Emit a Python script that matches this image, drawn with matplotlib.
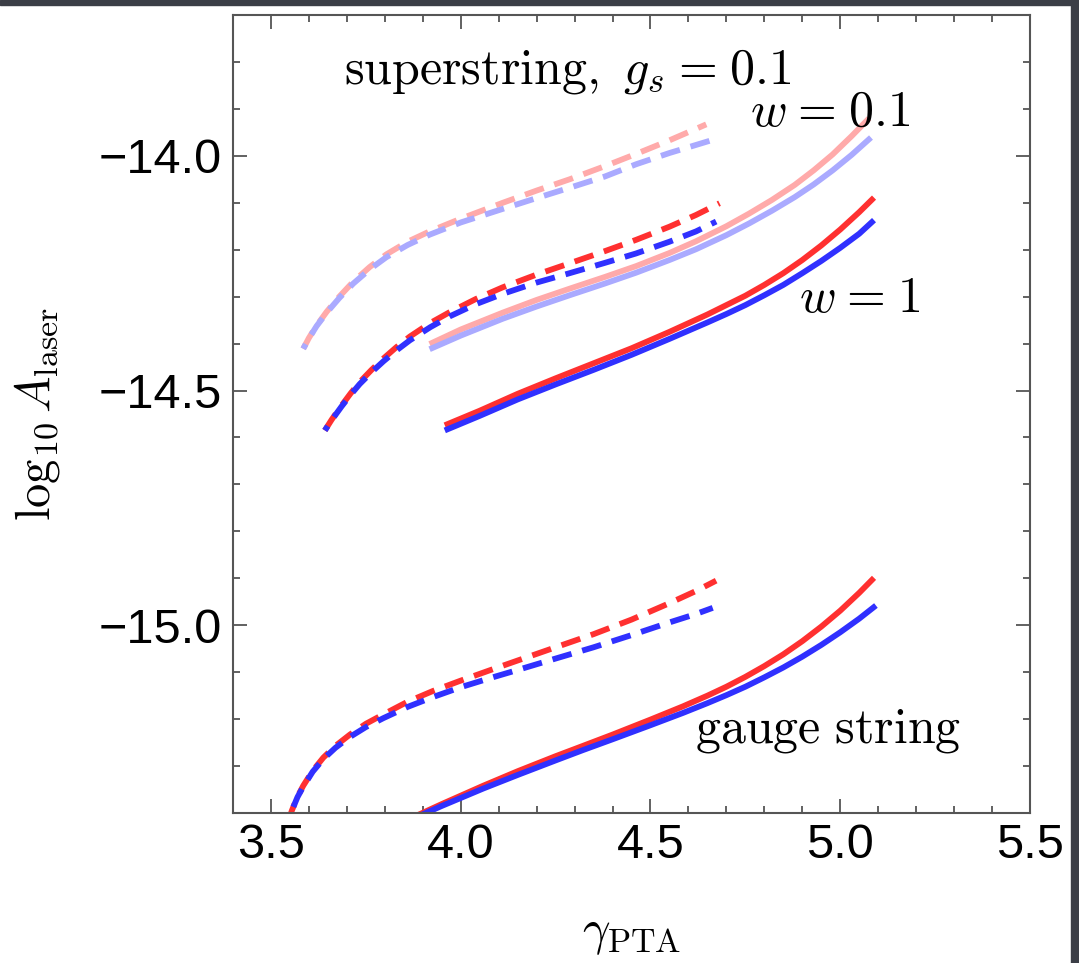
import matplotlib
matplotlib.use("Agg")
import matplotlib.pyplot as plt
from matplotlib.ticker import MultipleLocator, FuncFormatter
from matplotlib.patches import Rectangle

plt.rcParams["font.family"] = ["Liberation Sans", "DejaVu Sans"]
plt.rcParams["mathtext.fontset"] = "cm"

# ---------------------------------
# DATA
# ---------------------------------
# superstring, w = 0.1, dashed (light colours)
sl_dash_red_x = [3.585, 3.60, 3.62, 3.647, 3.68, 3.717, 3.76, 3.804, 3.86, 3.918,
                 4.00, 4.111, 4.20, 4.287, 4.38, 4.462, 4.55, 4.647]
sl_dash_red_y = [-14.411, -14.388, -14.362, -14.332, -14.300, -14.268, -14.237, -14.210, -14.183, -14.161,
                 -14.134, -14.100, -14.074, -14.050, -14.022, -13.996, -13.967, -13.933]
sl_dash_blue_x = [3.585, 3.60, 3.62, 3.647, 3.68, 3.717, 3.76, 3.804, 3.86, 3.918,
                  4.00, 4.111, 4.20, 4.287, 4.38, 4.462, 4.55, 4.660]
sl_dash_blue_y = [-14.411, -14.389, -14.363, -14.334, -14.303, -14.272, -14.242, -14.216, -14.190, -14.168,
                  -14.142, -14.113, -14.090, -14.068, -14.044, -14.018, -13.994, -13.967]

# superstring, w = 0.1, solid (light colours)
sl_solid_red_x = [3.918, 4.00, 4.111, 4.20, 4.287, 4.38, 4.462, 4.55, 4.62,
                  4.70, 4.76, 4.82, 4.88, 4.93, 4.98, 5.03, 5.076]
sl_solid_red_y = [-14.401, -14.370, -14.334, -14.307, -14.283, -14.258, -14.235, -14.207, -14.182,
                  -14.150, -14.123, -14.094, -14.062, -14.031, -13.997, -13.958, -13.920]
sl_solid_blue_x = [3.918, 4.00, 4.111, 4.20, 4.287, 4.38, 4.462, 4.55, 4.62,
                   4.70, 4.76, 4.82, 4.88, 4.93, 4.98, 5.03, 5.081]
sl_solid_blue_y = [-14.412, -14.383, -14.347, -14.321, -14.297, -14.272, -14.249, -14.222, -14.199,
                   -14.169, -14.144, -14.117, -14.088, -14.061, -14.031, -13.998, -13.961]

# superstring, w = 1, dashed
s_dash_red_x = [3.642, 3.66, 3.686, 3.71, 3.734, 3.765, 3.796, 3.83, 3.866, 3.92,
                3.971, 4.04, 4.111, 4.20, 4.287, 4.38, 4.462, 4.55, 4.62, 4.682]
s_dash_red_y = [-14.585, -14.562, -14.532, -14.506, -14.482, -14.456, -14.432, -14.408, -14.385, -14.356,
                -14.333, -14.305, -14.280, -14.253, -14.229, -14.203, -14.179, -14.151, -14.126, -14.101]
s_dash_blue_x = [3.642, 3.66, 3.686, 3.71, 3.734, 3.765, 3.796, 3.83, 3.866, 3.92,
                 3.971, 4.04, 4.111, 4.20, 4.287, 4.38, 4.462, 4.55, 4.62, 4.673]
s_dash_blue_y = [-14.585, -14.563, -14.534, -14.509, -14.486, -14.461, -14.438, -14.415, -14.393, -14.365,
                 -14.342, -14.316, -14.294, -14.270, -14.250, -14.228, -14.208, -14.183, -14.161, -14.140]

# superstring, w = 1, solid
s_solid_red_x = [3.958, 4.05, 4.15, 4.25, 4.35, 4.45, 4.55, 4.65, 4.70,
                 4.75, 4.80, 4.85, 4.90, 4.95, 5.00, 5.05, 5.089]
s_solid_red_y = [-14.574, -14.543, -14.507, -14.474, -14.442, -14.410, -14.375, -14.338, -14.318,
                 -14.298, -14.275, -14.250, -14.222, -14.191, -14.157, -14.120, -14.089]
s_solid_blue_x = [3.958, 4.05, 4.15, 4.25, 4.35, 4.45, 4.55, 4.65, 4.70,
                  4.75, 4.80, 4.85, 4.90, 4.95, 5.00, 5.05, 5.089]
s_solid_blue_y = [-14.585, -14.554, -14.519, -14.487, -14.456, -14.424, -14.390, -14.355, -14.337,
                  -14.318, -14.297, -14.275, -14.250, -14.224, -14.196, -14.166, -14.137]

# gauge string, dashed
g_dash_red_x = [3.545, 3.555, 3.57, 3.585, 3.61, 3.638, 3.67, 3.708, 3.75, 3.796, 3.86,
                3.927, 4.00, 4.08, 4.147, 4.25, 4.35, 4.45, 4.55, 4.62, 4.673]
g_dash_red_y = [-15.420, -15.395, -15.365, -15.342, -15.310, -15.282, -15.257, -15.233, -15.210, -15.190, -15.163,
                -15.140, -15.118, -15.095, -15.076, -15.047, -15.019, -14.988, -14.953, -14.927, -14.905]
g_dash_blue_x = [3.545, 3.555, 3.57, 3.585, 3.61, 3.638, 3.67, 3.708, 3.75, 3.796, 3.86,
                 3.927, 4.00, 4.08, 4.147, 4.25, 4.35, 4.45, 4.55, 4.62, 4.664]
g_dash_blue_y = [-15.420, -15.395, -15.366, -15.344, -15.312, -15.285, -15.261, -15.238, -15.217, -15.198, -15.174,
                 -15.153, -15.132, -15.112, -15.096, -15.071, -15.047, -15.021, -14.994, -14.976, -14.963]

# gauge string, solid
g_solid_red_x = [3.88, 3.95, 4.059, 4.15, 4.25, 4.322, 4.40, 4.50, 4.585, 4.65,
                 4.70, 4.75, 4.80, 4.85, 4.90, 4.95, 5.00, 5.05, 5.089]
g_solid_red_y = [-15.407, -15.381, -15.342, -15.311, -15.279, -15.257, -15.233, -15.201, -15.173, -15.150,
                 -15.131, -15.110, -15.087, -15.062, -15.034, -15.003, -14.969, -14.931, -14.899]
g_solid_blue_x = [3.88, 3.95, 4.059, 4.15, 4.25, 4.322, 4.40, 4.50, 4.585, 4.65,
                  4.70, 4.75, 4.80, 4.85, 4.90, 4.95, 5.00, 5.05, 5.094]
g_solid_blue_y = [-15.410, -15.385, -15.348, -15.319, -15.288, -15.266, -15.243, -15.213, -15.187, -15.166,
                  -15.149, -15.131, -15.111, -15.090, -15.067, -15.042, -15.015, -14.986, -14.958]

RED = "#ff3030"
BLUE = "#3030ff"
LRED = "#ffaaaa"
LBLUE = "#aaaaff"
LW = 4.2
DASH = (3.4, 1.9)

# ---------------------------------
# FIGURE
# ---------------------------------
fig = plt.figure(figsize=(10.79, 9.63), dpi=100)
fig.patch.set_facecolor("white")
# dark frame strips at top and right of the screenshot
fig.patches.append(Rectangle((0, 1 - 5 / 963), 1, 5 / 963, transform=fig.transFigure,
                             color="#3b3e46", zorder=0))
fig.patches.append(Rectangle((1 - 8 / 1079, 0), 8 / 1079, 1, transform=fig.transFigure,
                             color="#3b3e46", zorder=0))

ax = fig.add_axes([233 / 1079, 150 / 963, 797 / 1079, 798 / 963])


def dashed(x, y, color, offset=0.0):
    ax.plot(x, y, color=color, lw=LW, linestyle=(offset, DASH),
            dash_capstyle="butt", dash_joinstyle="round")


def solid(x, y, color):
    ax.plot(x, y, color=color, lw=LW, solid_capstyle="butt", solid_joinstyle="round")


dashed(sl_dash_red_x, sl_dash_red_y, LRED)
dashed(sl_dash_blue_x, sl_dash_blue_y, LBLUE, 2.5)
solid(sl_solid_red_x, sl_solid_red_y, LRED)
solid(sl_solid_blue_x, sl_solid_blue_y, LBLUE)

dashed(s_dash_red_x, s_dash_red_y, RED)
dashed(s_dash_blue_x, s_dash_blue_y, BLUE, 2.5)
solid(s_solid_red_x, s_solid_red_y, RED)
solid(s_solid_blue_x, s_solid_blue_y, BLUE)

dashed(g_dash_red_x, g_dash_red_y, RED)
dashed(g_dash_blue_x, g_dash_blue_y, BLUE, 2.5)
solid(g_solid_red_x, g_solid_red_y, RED)
solid(g_solid_blue_x, g_solid_blue_y, BLUE)

ax.set_xlim(3.4, 5.5)
ax.set_ylim(-15.4, -13.7)

ax.xaxis.set_major_locator(MultipleLocator(0.5))
ax.xaxis.set_minor_locator(MultipleLocator(0.1))
ax.yaxis.set_major_locator(MultipleLocator(0.5))
ax.yaxis.set_minor_locator(MultipleLocator(0.1))
fmt = FuncFormatter(lambda v, p: f"{v:.1f}".replace("-", "\u2212"))
ax.xaxis.set_major_formatter(fmt)
ax.yaxis.set_major_formatter(fmt)

ax.tick_params(which="both", direction="in", top=True, right=True,
               color="#555555", width=1.3)
ax.tick_params(which="major", length=10, labelsize=35)
ax.tick_params(which="minor", length=5)
ax.tick_params(axis="x", which="major", pad=7)
ax.tick_params(axis="y", which="major", pad=8)
for sp in ax.spines.values():
    sp.set_color("#555555")
    sp.set_linewidth(1.5)

ax.set_xlabel(r"$\gamma_{\rm PTA}$", fontsize=35)
ax.set_ylabel(r"$\log_{10} A_{\rm laser}$", fontsize=35)
ax.xaxis.set_label_coords(0.5, -0.124)
ax.yaxis.set_label_coords(-0.2146, 0.5)

EQ = r"\hspace{0.07}=\hspace{0.07}"
ax.text(3.692, -13.821, r"$\mathrm{superstring,}\ g_s" + EQ + r"0.1$", fontsize=36,
        va="center", ha="left")
ax.text(4.761, -13.909, r"$w" + EQ + r"0.1$", fontsize=36, va="center", ha="left")
ax.text(4.892, -14.305, r"$w" + EQ + r"1$", fontsize=36, va="center", ha="left")
ax.text(4.616, -15.226, r"$\mathrm{gauge\ string}$", fontsize=36, va="center", ha="left")

fig.savefig("out.png", dpi=100)
